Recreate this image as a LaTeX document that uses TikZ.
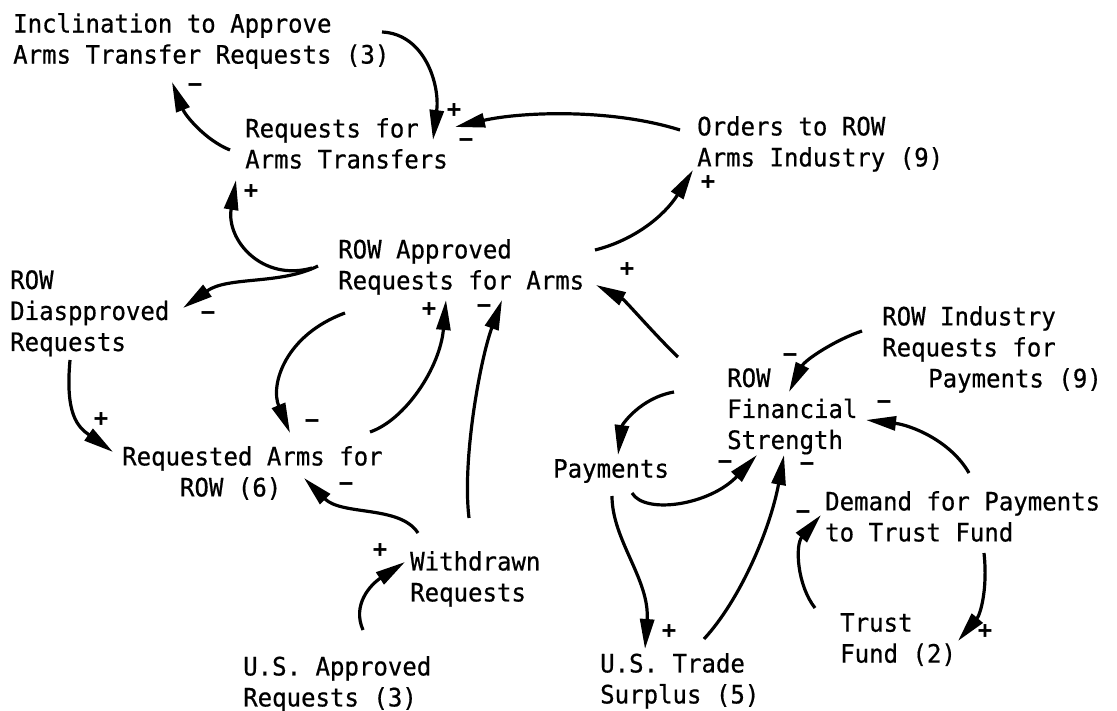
\documentclass[tikz,border=0pt]{standalone}
\usepackage{fontspec}
\newfontfamily\typeface[FakeStretch=0.95,FakeBold=0.6]{DejaVu Sans Mono}
\newfontfamily\signface{DejaVu Sans Mono}
\usetikzlibrary{arrows.meta,calc}
\begin{document}
\begin{tikzpicture}[x=1pt,y=-1pt,
  var/.style={anchor=north west, inner sep=0pt, align=left,
    font=\typeface\frenchspacing\fontsize{25.3}{31}\selectfont},
  link/.style={line width=3.2pt, -{Triangle[length=30pt,width=14pt]}},
  sgn/.style={inner sep=0pt, font=\signface\bfseries\fontsize{24}{24}\selectfont}]
\useasboundingbox[fill=white] (0,0) rectangle (1117,711);

% variables of the causal loop diagram
\node[var] (incl)      at (13,13)   {Inclination to Approve\\Arms Transfer Requests (3)};
\node[var] (req)       at (245,118) {Requests for\\Arms Transfers};
\node[var] (orders)    at (697,116) {Orders to ROW\\Arms Industry (9)};
\node[var] (rowapp)    at (338,239) {ROW Approved\\Requests for Arms};
\node[var] (dis)       at (10,270)  {ROW\\Diaspproved\\Requests};
\node[var] (reqrow)    at (122,446) {Requested Arms for\\\hspace*{57.8pt}ROW (6)};
\node[var] (withdrawn) at (410,551) {Withdrawn\\Requests};
\node[var] (usapp)     at (243,656) {U.S. Approved\\Requests (3)};
\node[var] (payments)  at (553,459) {Payments};
\node[var] (trade)     at (600,653) {U.S. Trade\\Surplus (5)};
\node[var] (fin)       at (727,368) {ROW\\Financial\\Strength};
\node[var] (industry)  at (882,306) {ROW Industry\\Requests for\\\hspace*{46pt}Payments (9)};
\node[var] (demand)    at (825,491) {Demand for Payments\\to Trust Fund};
\node[var] (trust)     at (840,613) {Trust\\Fund (2)};

% causal links with their polarity
\draw[link] ($(incl.north west)+(369,19)$) .. controls +(43,2) and +(7,-55) .. ($(req.north west)+(188,22)$);
\node[sgn] (s1) at ($(req.north west)+(209,-7)$) {+};

\draw[link] ($(req.north west)+(-15,32)$) .. controls +(-25,-10) and +(13,33) .. ($(incl.north west)+(159,69)$);
\node[sgn] (s2) at ($(incl.north west)+(182,75)$) {−};

\draw[link] ($(orders.north west)+(-17,14)$) .. controls +(-70,-22) and +(65,-15) .. ($(req.north west)+(210,9)$);
\node[sgn] (s3) at ($(req.north west)+(221,25)$) {−};

\draw[link] ($(rowapp.north west)+(257,11)$) .. controls +(40,-10) and +(-28,45) .. ($(orders.north west)+(-4,54)$);
\node[sgn] (s4) at ($(orders.north west)+(11,67)$) {+};

\draw[link] ($(rowapp.north west)+(-26,29)$) .. controls +(-50,14) and +(-10,60) .. ($(req.north west)+(-9,62)$);
\node[sgn] (s5) at ($(req.north west)+(6,74)$) {+};

\draw[link] ($(rowapp.north west)+(-20,27)$) .. controls +(-38,19) and +(45,-32) .. ($(dis.north west)+(173,38)$);
\node[sgn] (s6) at ($(dis.north west)+(198,46)$) {−};

\draw[link] ($(dis.north west)+(60,90)$) .. controls +(-5,55) and +(-35,-25) .. ($(reqrow.north west)+(-9,6)$);
\node[sgn] (s7) at ($(reqrow.north west)+(-21,-26)$) {+};

\draw[link] ($(rowapp.north west)+(7,74)$) .. controls +(-60,22) and +(-20,-48) .. ($(reqrow.north west)+(168,-13)$);
\node[sgn] (s8) at ($(reqrow.north west)+(190,-22)$) {−};

\draw[link] ($(reqrow.north west)+(248,-14)$) .. controls +(35,-12) and +(-6,68) .. ($(rowapp.north west)+(108,61)$);
\node[sgn] (s9) at ($(rowapp.north west)+(91,71)$) {+};

\draw[link] ($(withdrawn.north west)+(59,-33)$) .. controls +(-7,-58) and +(-22,60) .. ($(rowapp.north west)+(164,61)$);
\node[sgn] (s10) at ($(rowapp.north west)+(146,70)$) {−};

\draw[link] ($(withdrawn.north west)+(8,-18)$) .. controls +(-18,-28) and +(38,38) .. ($(reqrow.north west)+(182,32)$);
\node[sgn] (s11) at ($(reqrow.north west)+(224,41)$) {−};

\draw[link] ($(usapp.north west)+(120,-26)$) .. controls +(-11,-25) and +(-35,23) .. ($(withdrawn.north west)+(-5,11)$);
\node[sgn] (s12) at ($(withdrawn.north west)+(-30,0)$) {+};

\draw[link] ($(fin.north west)+(-49,-11)$) .. controls +(-23,-22) and +(29,15) .. ($(rowapp.north west)+(258,46)$);
\node[sgn] (s13) at ($(rowapp.north west)+(289,31)$) {+};

\draw[link] ($(fin.north west)+(-53,24)$) .. controls +(-34,6) and +(4,-30) .. ($(payments.north west)+(65,-4)$);

\draw[link] ($(industry.north west)+(-20,25)$) .. controls +(-27,9) and +(16,-32) .. ($(fin.north west)+(62,24)$);
\node[sgn] (s15) at ($(fin.north west)+(63,-10)$) {−};

\draw[link] ($(demand.north west)+(144,-18)$) .. controls +(-19,-33) and +(44,5) .. ($(fin.north west)+(139,52)$);
\node[sgn] (s16) at ($(fin.north west)+(157,37)$) {−};

\draw[link] ($(payments.north west)+(79,34)$) .. controls +(13,22) and +(-47,50) .. ($(fin.north west)+(30,87)$);
\node[sgn] (s17) at ($(fin.north west)+(-2,97)$) {−};

\draw[link] ($(trade.north west)+(104,-14)$) .. controls +(36,-39) and +(-14,75) .. ($(fin.north west)+(57,87)$);
\node[sgn] (s18) at ($(fin.north west)+(80,99)$) {−};

\draw[link] ($(payments.north west)+(59,37)$) .. controls +(0,44) and +(5,-69) .. ($(trade.north west)+(45,-4)$);
\node[sgn] (s19) at ($(trade.north west)+(69,-21)$) {+};

\draw[link] ($(trust.north west)+(-25,-5)$) .. controls +(-18,-23) and +(-26,30) .. ($(demand.north west)+(-4,24)$);
\node[sgn] (s20) at ($(demand.north west)+(-22,24)$) {−};

\draw[link] ($(demand.north west)+(159,62)$) .. controls +(4,37) and +(22,-26) .. ($(trust.north west)+(118,28)$);
\node[sgn] (s21) at ($(trust.north west)+(145,19)$) {+};
\end{tikzpicture}
\end{document}
